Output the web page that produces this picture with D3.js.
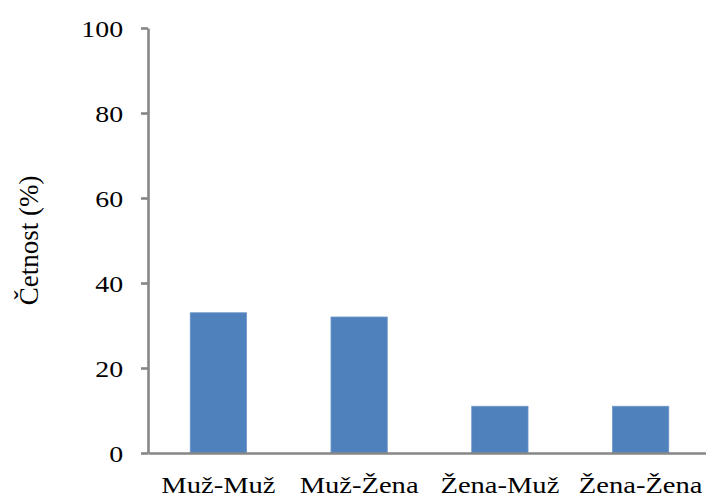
<!DOCTYPE html>
<html>
<head>
<meta charset="utf-8">
<script src="https://cdn.jsdelivr.net/npm/d3@7"></script>
</head>
<body style="margin:0">
<svg id="chart" width="706" height="498" style="display:block;background:#fff"></svg>
<script>
const categories = ["Muž-Muž", "Muž-Žena", "Žena-Muž", "Žena-Žena"];
const values = [33, 32, 11, 11];
const yTicks = [0, 20, 40, 60, 80, 100];
const yLabel = "Četnost (%)";

const FONT = "Liberation Serif";
const svg = d3.select("#chart");
const x0 = 148, x1 = 711, yTop = 28, yBot = 453;
const axisColor = "#868686";

const x = d3.scaleBand().domain(categories).range([x0, x1]).paddingInner(0.6).paddingOuter(0.3);
const y = d3.scaleLinear().domain([0, 100]).range([yBot, yTop]);

// bars
svg.append("g").selectAll("rect").data(values).join("rect")
  .attr("x", (d, i) => x(categories[i]))
  .attr("width", x.bandwidth())
  .attr("y", d => y(d))
  .attr("height", d => y(0) - y(d))
  .attr("fill", "#4F81BD")
  .attr("stroke", "#6f97c9")
  .attr("stroke-width", 0.8);

// y axis
const gy = svg.append("g").attr("transform", `translate(${x0},0)`)
  .call(d3.axisLeft(y).tickValues(yTicks).tickSize(7).tickSizeOuter(0).tickFormat(d3.format("d")));
gy.attr("font-family", FONT);
gy.select(".domain").attr("stroke", axisColor).attr("stroke-width", 2.6);
gy.selectAll(".tick line").attr("stroke", axisColor).attr("stroke-width", 2.6);
gy.selectAll(".tick text")
  .attr("x", -21.5)
  .attr("dy", "0.34em")
  .attr("transform", "scale(1.16,1)")
  .style("font-family", FONT)
  .style("font-size", "24px")
  .attr("fill", "#000");

// x axis
const gx = svg.append("g").attr("transform", `translate(0,${yBot})`)
  .call(d3.axisBottom(x).tickSize(0).tickSizeOuter(0));
gx.attr("font-family", FONT);
gx.select(".domain").attr("stroke", axisColor).attr("stroke-width", 2.6);
gx.selectAll(".tick text")
  .attr("y", 0)
  .attr("dy", 0)
  .attr("transform", "translate(0,39.5) scale(1.19,1)")
  .style("font-family", FONT)
  .style("font-size", "24px")
  .attr("fill", "#000");

// y label
svg.append("text")
  .attr("transform", `translate(38,${(yTop + yBot) / 2}) rotate(-90)`)
  .attr("text-anchor", "middle")
  .style("font-family", FONT)
  .style("font-size", "27px")
  .attr("fill", "#000")
  .text(yLabel);
</script>
</body>
</html>
